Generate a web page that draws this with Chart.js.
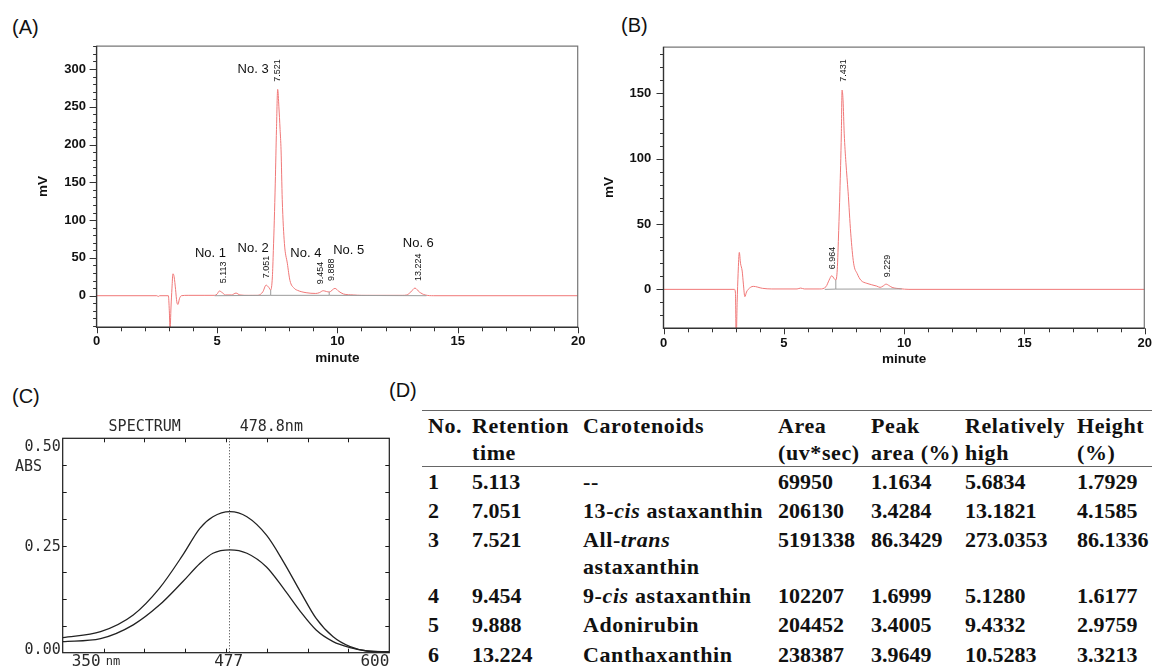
<!DOCTYPE html>
<html lang="en">
<head>
<meta charset="UTF-8">
<title>Astaxanthin HPLC profile</title>
<script src="https://cdn.jsdelivr.net/npm/chart.js"></script>
<style>
    html, body { margin: 0; padding: 0; background: #fff; }
    body {
        width: 1152px; height: 669px; overflow: hidden; position: relative;
        font-family: 'Liberation Sans', Arial, sans-serif; color: #111;
    }
    canvas { position: absolute; }
    .tag { position: absolute; font-size: 20px; line-height: 20px; color: #111; }
    .cell {
        position: absolute; white-space: nowrap; color: #111;
        font-family: 'Liberation Serif', 'Times New Roman', serif;
        font-weight: bold; font-size: 22px; line-height: 26.7px;
    }
    .word { letter-spacing: 0.6px; }
    .rule { position: absolute; left: 422px; width: 740px; height: 0; border-top: 1.5px solid #666; }
</style>
</head>
<body>
    <div class="tag" style="left:12px; top:17px">(A)</div>
    <div class="tag" style="left:621px; top:15px">(B)</div>
    <div class="tag" style="left:12px; top:386px">(C)</div>
    <div class="tag" style="left:389px; top:380px">(D)</div>

    <canvas id="chartA" width="600" height="370" style="left:0; top:0"></canvas>
    <canvas id="chartB" width="600" height="370" style="left:580px; top:0"></canvas>
    <canvas id="chartC" width="400" height="294" style="left:0; top:375px"></canvas>

    <div id="tableD"></div>

<script>
// (A) chromatogram of the extract, minute / mV
const timeA = [0, 2.5, 2.56, 2.62, 2.98, 3.02, 3.05, 3.09, 3.13, 3.17, 3.22, 3.28, 3.33, 3.38, 3.44, 3.52,
    3.8, 4.5, 4.9, 5.0, 5.1, 5.22, 5.35, 5.6, 5.79, 5.95, 6.3, 6.7, 6.9, 7.04, 7.15, 7.23, 7.30, 7.34,
    7.38, 7.42, 7.47, 7.52, 7.57, 7.62, 7.66, 7.71, 7.80, 7.92, 8.03, 8.2, 8.35, 8.7, 9.1, 9.25, 9.41,
    9.55, 9.66, 9.9, 10.05, 10.25, 10.66, 11.0, 12.7, 12.88, 13.05, 13.22, 13.4, 13.64, 14.0, 20];
const signalA = [0, 0, -1, 0, 0, -20, -45, -15, 10, 29, 25, 8, -8, -11.5, -4, 0,
    0.5, 0.5, 0.5, 2, 6.2, 4, 1, 1, 3.5, 1, 0.5, 0.5, 5, 14, 11, 7.5, 25, 60,
    100, 149, 220, 273, 250, 220, 193, 127, 69, 43, 20, 10, 7, 4, 3, 4, 6.6,
    5.5, 4.9, 9.7, 6, 2.3, 1, 0.5, 0.5, 1, 5, 10.1, 5, 1, 0, 0];
// integration baseline with drop lines
const baseTimeA = [4.9, 7.23, 7.23, 7.23, 7.23, 9.66, 9.66, 9.66, 9.66, 13.7];
const baseSignalA = [0, 0.5, 7.5, null, 0.5, 0.5, 4.9, null, 0.5, 0];
const peakNamesA = ['No. 1', 'No. 2', 'No. 3', 'No. 4', 'No. 5', 'No. 6'];
const peakNameAtA = [[4.73, 56], [6.5, 62.7], [6.5, 300], [8.69, 56], [10.47, 59.5], [13.36, 69.3]];
const peakRtA = ['5.113', '7.051', '7.521', '9.454', '9.888', '13.224'];
const peakRtAtA = [[5.25, 16.4], [7.05, 23], [7.51, 283], [9.29, 15], [9.77, 19.5], [13.35, 19.5]];

// (B) chromatogram of the standard
const timeB = [0, 2.95, 2.99, 3.02, 3.06, 3.1, 3.15, 3.2, 3.27, 3.32, 3.38, 3.45, 3.52, 3.73, 4.11, 4.5,
    5.55, 5.7, 5.85, 6.5, 6.75, 6.88, 6.99, 7.1, 7.16, 7.22, 7.28, 7.33, 7.39, 7.42, 7.46, 7.51,
    7.58, 7.67, 7.78, 7.9, 8.05, 8.2, 8.45, 8.86, 9.0, 9.12, 9.25, 9.38, 9.5, 9.83, 10.2, 20];
const signalB = [0, 0, -3, -40, -10, 12, 28.3, 20, 14, 4, -5.6, -2, 0, 2.3, 0.8, 0.3,
    0.3, 1, 0.3, 0.3, 2, 7, 10.4, 8, 7.1, 15, 45, 74.7, 119, 152.5, 145, 119,
    97, 74.7, 43, 20, 12, 7, 4.6, 2.5, 1.5, 2.5, 4, 2.8, 1.5, 0.5, 0, 0];
const baseTimeB = [6.7, 7.16, 7.16, 7.16, 7.16, 9.9];
const baseSignalB = [0, 0.2, 7.1, null, 0.2, 0.3];
const peakRtB = ['6.964', '7.431', '9.229'];
const peakRtAtB = [[7.04, 15.3], [7.48, 158.9], [9.3, 9.2]];

const minuteTicks = [0, 5, 10, 15, 20];
const mvTicksA = [0, 50, 100, 150, 200, 250, 300];
const mvTicksB = [0, 50, 100, 150];

// (C) UV-vis spectrum, nm / ABS
const specNm = [350, 379, 404, 424, 442, 455, 465, 478, 491, 506, 519, 532, 544, 557, 570, 583, 600];
const specUpper = [0.035, 0.049, 0.088, 0.150, 0.228, 0.290, 0.317, 0.329, 0.317, 0.274, 0.212, 0.142, 0.080, 0.037, 0.014, 0.004, 0.002];
const specLower = [0.026, 0.033, 0.065, 0.111, 0.166, 0.208, 0.232, 0.240, 0.232, 0.200, 0.150, 0.096, 0.053, 0.026, 0.012, 0.004, 0.002];
const specAbsTicks = [0.5, 0.25, 0];
const specCursorNm = 477;

// (D) peak table
const tblHead = ['No.', 'Retention<br>time', 'Carotenoids', 'Area<br>(uv*sec)', 'Peak<br>area (%)', 'Relatively<br>high', 'Height<br>(%)'];
const tblNo = ['1', '2', '3', '4', '5', '6'];
const tblRt = ['5.113', '7.051', '7.521', '9.454', '9.888', '13.224'];
const tblName = ['--', '13-<i>cis</i> astaxanthin', 'All-<i>trans</i><br>astaxanthin', '9-<i>cis</i> astaxanthin', 'Adonirubin', 'Canthaxanthin'];
const tblArea = ['69950', '206130', '5191338', '102207', '204452', '238387'];
const tblPeakPct = ['1.1634', '3.4284', '86.3429', '1.6999', '3.4005', '3.9649'];
const tblRelHigh = ['5.6834', '13.1821', '273.0353', '5.1280', '9.4332', '10.5283'];
const tblHeightPct = ['1.7929', '4.1585', '86.1336', '1.6177', '2.9759', '3.3213'];

Chart.defaults.font.family = "'Liberation Sans', Arial, sans-serif";
Chart.defaults.color = '#111';

const pairs = (xs, ys) => xs.map((v, i) => ({ x: v, y: ys[i] }));

// tick marks, frame and peak labels for the chromatograms
function chromOverlay(cfg) {
    return {
        id: 'chromOverlay',
        afterDraw(chart) {
            const { ctx, chartArea: a, scales: { x, y } } = chart;
            ctx.save();
            // frame
            ctx.strokeStyle = '#777';
            ctx.lineWidth = 1.2;
            ctx.beginPath();
            ctx.moveTo(a.left, a.top + 0.5); ctx.lineTo(a.right - 0.5, a.top + 0.5); ctx.lineTo(a.right - 0.5, a.bottom);
            ctx.stroke();
            ctx.strokeStyle = '#333';
            ctx.lineWidth = 1.4;
            ctx.beginPath();
            ctx.moveTo(a.left, a.top); ctx.lineTo(a.left, a.bottom); ctx.lineTo(a.right, a.bottom);
            ctx.stroke();
            // ticks
            ctx.lineWidth = 1;
            ctx.beginPath();
            for (let v = Math.ceil(y.min / 10) * 10; v <= y.max; v += 10) {
                const py = Math.round(y.getPixelForValue(v)) + 0.5;
                const len = v % 50 === 0 ? 7 : 3.5;
                ctx.moveTo(a.left, py); ctx.lineTo(a.left - len, py);
            }
            for (let v = 0; v <= x.max; v += 1) {
                const px = Math.round(x.getPixelForValue(v)) + 0.5;
                const len = v % 5 === 0 ? 6 : 4;
                ctx.moveTo(px, a.bottom); ctx.lineTo(px, a.bottom + len);
            }
            ctx.stroke();
            // peak names
            ctx.fillStyle = '#111';
            ctx.textAlign = 'center';
            ctx.textBaseline = 'middle';
            ctx.font = "13px 'Liberation Sans', Arial, sans-serif";
            cfg.names.forEach((n, i) => {
                ctx.fillText(n, x.getPixelForValue(cfg.nameAt[i][0]), y.getPixelForValue(cfg.nameAt[i][1]));
            });
            // retention times, vertical
            ctx.font = "9px 'Liberation Sans', Arial, sans-serif";
            ctx.textAlign = 'left';
            cfg.rts.forEach((t, i) => {
                ctx.save();
                ctx.translate(x.getPixelForValue(cfg.rtAt[i][0]), y.getPixelForValue(cfg.rtAt[i][1]));
                ctx.rotate(-Math.PI / 2);
                ctx.fillText(t, 0, 0);
                ctx.restore();
            });
            ctx.restore();
        }
    };
}

function chromatogram(id, trace, base, yMin, yMax, yTicks, lay, overlay) {
    return new Chart(document.getElementById(id), {
        type: 'line',
        data: {
            datasets: [
                { data: trace, borderColor: '#f07878', borderWidth: 1, pointRadius: 0, cubicInterpolationMode: 'monotone', order: 2 },
                { data: base, borderColor: '#9c9c9c', borderWidth: 1, pointRadius: 0, spanGaps: false, order: 1 }
            ]
        },
        options: {
            responsive: false,
            animation: false,
            devicePixelRatio: 1,
            layout: { padding: lay.pad },
            plugins: { legend: { display: false }, tooltip: { enabled: false } },
            scales: {
                x: {
                    type: 'linear', min: 0, max: 20,
                    afterBuildTicks: ax => { ax.ticks = minuteTicks.map(v => ({ value: v })); },
                    afterFit: s => { s.height = lay.xh; },
                    grid: { display: false, drawTicks: false },
                    border: { display: false },
                    ticks: { padding: lay.xpad, autoSkip: false, maxRotation: 0, font: { size: 13, weight: 'bold' }, color: '#111' },
                    title: { display: true, text: 'minute', color: '#111', font: { size: 13.5, weight: 'bold' }, padding: { top: 0, bottom: lay.xtp } }
                },
                y: {
                    min: yMin, max: yMax,
                    afterBuildTicks: ax => { ax.ticks = yTicks.map(v => ({ value: v })); },
                    afterFit: s => { s.width = lay.yw; },
                    grid: { display: false, drawTicks: false },
                    border: { display: false },
                    ticks: { padding: lay.ypad, font: { size: 13, weight: 'bold' }, color: '#111' },
                    title: { display: true, text: 'mV', color: '#111', font: { size: 13.5, weight: 'bold' }, padding: { top: lay.ytp, bottom: 0 } }
                }
            }
        },
        plugins: [overlay]
    });
}

chromatogram('chartA', pairs(timeA, signalA), pairs(baseTimeA, baseSignalA), -41.8, 330.8, mvTicksA,
    { pad: { left: 0, top: 45.7, right: 21.8, bottom: 0 }, yw: 96.6, xh: 42.7, xpad: 6.6, ypad: 10.6, xtp: 3.6, ytp: 35.4 },
    chromOverlay({ names: peakNamesA, nameAt: peakNameAtA, rts: peakRtA, rtAt: peakRtAtA }));

chromatogram('chartB', pairs(timeB, signalB), pairs(baseTimeB, baseSignalB), -29.8, 185.7, mvTicksB,
    { pad: { left: 0, top: 46.7, right: 35.2, bottom: 0 }, yw: 83.5, xh: 41.7, xpad: 7.2, ypad: 12.3, xtp: 2.9, ytp: 21.1 },
    chromOverlay({ names: [], nameAt: [], rts: peakRtB, rtAt: peakRtAtB }));

// spectrum frame, cursor and printer-style labels
const specOverlay = {
    id: 'specOverlay',
    afterDraw(chart) {
        const { ctx, chartArea: a, scales: { x, y } } = chart;
        ctx.save();
        ctx.strokeStyle = '#1a1a1a';
        ctx.lineWidth = 1.2;
        ctx.strokeRect(a.left, a.top, a.right - a.left, a.bottom - a.top);
        ctx.lineWidth = 1;
        ctx.beginPath();
        for (let i = 1; i < 8; i++) {
            const px = Math.round(x.getPixelForValue(350 + i * 31.25)) + 0.5;
            const py = Math.round(y.getPixelForValue(i * 0.0625)) + 0.5;
            ctx.moveTo(px, a.top); ctx.lineTo(px, a.top + 4);
            ctx.moveTo(px, a.bottom); ctx.lineTo(px, a.bottom - 4);
            ctx.moveTo(a.left, py); ctx.lineTo(a.left + 4, py);
            ctx.moveTo(a.right, py); ctx.lineTo(a.right - 4, py);
        }
        ctx.stroke();
        // cursor line
        const cx = Math.round(x.getPixelForValue(specCursorNm)) + 0.5;
        ctx.setLineDash([1, 2]);
        ctx.strokeStyle = '#333';
        ctx.beginPath();
        ctx.moveTo(cx, a.top); ctx.lineTo(cx, a.bottom);
        ctx.stroke();
        ctx.setLineDash([]);
        // text
        ctx.fillStyle = '#2a2a2a';
        ctx.textBaseline = 'middle';
        ctx.font = "15px 'DejaVu Sans Mono', monospace";
        ctx.textAlign = 'center';
        ctx.fillText('SPECTRUM', a.left + 82, a.top - 11.6);
        ctx.textAlign = 'left';
        ctx.fillText('478.8nm', a.left + 177, a.top - 11.6);
        ctx.fillText('ABS', 15, a.top + 28.4);
        ctx.textAlign = 'right';
        const yOff = [8.4, 1.2, -2.7];
        specAbsTicks.forEach((v, i) => {
            ctx.fillText(v.toFixed(2), a.left - 2, y.getPixelForValue(v) + yOff[i]);
        });
        ctx.font = "16px 'DejaVu Sans Mono', monospace";
        const by = a.bottom + 9.3;
        ctx.textAlign = 'left';
        ctx.fillText('350', a.left + 9, by);
        ctx.font = "12px 'DejaVu Sans Mono', monospace";
        ctx.fillText('nm', a.left + 43, by);
        ctx.font = "16px 'DejaVu Sans Mono', monospace";
        ctx.textAlign = 'center';
        ctx.fillText(String(specCursorNm), x.getPixelForValue(specCursorNm), by);
        ctx.textAlign = 'right';
        ctx.fillText('600', x.getPixelForValue(600), by);
        ctx.restore();
    }
};

new Chart(document.getElementById('chartC'), {
    type: 'line',
    data: {
        datasets: [
            { data: pairs(specNm, specUpper), borderColor: '#222', borderWidth: 1.3, pointRadius: 0, cubicInterpolationMode: 'monotone' },
            { data: pairs(specNm, specLower), borderColor: '#222', borderWidth: 1.3, pointRadius: 0, cubicInterpolationMode: 'monotone' }
        ]
    },
    options: {
        responsive: false,
        animation: false,
        devicePixelRatio: 1,
        layout: { padding: { left: 62.7, right: 10.7, top: 63.3, bottom: 16.3 } },
        plugins: { legend: { display: false }, tooltip: { enabled: false } },
        scales: {
            x: { type: 'linear', min: 350, max: 600, display: false },
            y: { min: 0, max: 0.5, display: false }
        }
    },
    plugins: [specOverlay]
});

// table (D)
const colX = [428, 472, 583, 778, 871, 965, 1077];
const rowY = [482, 511.7, 540.7, 596.7, 625.7, 655];
const headY = 426.7;
const tableD = document.getElementById('tableD');
function cell(html, x, yc, cls) {
    const d = document.createElement('div');
    d.className = 'cell' + (cls ? ' ' + cls : '');
    d.style.left = x + 'px';
    d.style.top = (yc - 13.4) + 'px';
    d.innerHTML = html;
    tableD.appendChild(d);
}
const r1 = document.createElement('div');
r1.className = 'rule'; r1.style.top = '410px';
tableD.appendChild(r1);
const r2 = document.createElement('div');
r2.className = 'rule'; r2.style.top = '466px';
tableD.appendChild(r2);
tblHead.forEach((h, c) => cell(h, colX[c], headY, 'word'));
const cols = [tblNo, tblRt, tblName, tblArea, tblPeakPct, tblRelHigh, tblHeightPct];
cols.forEach((col, c) => col.forEach((v, r) => cell(v, colX[c], rowY[r], c === 2 ? 'word' : '')));
</script>
</body>
</html>
